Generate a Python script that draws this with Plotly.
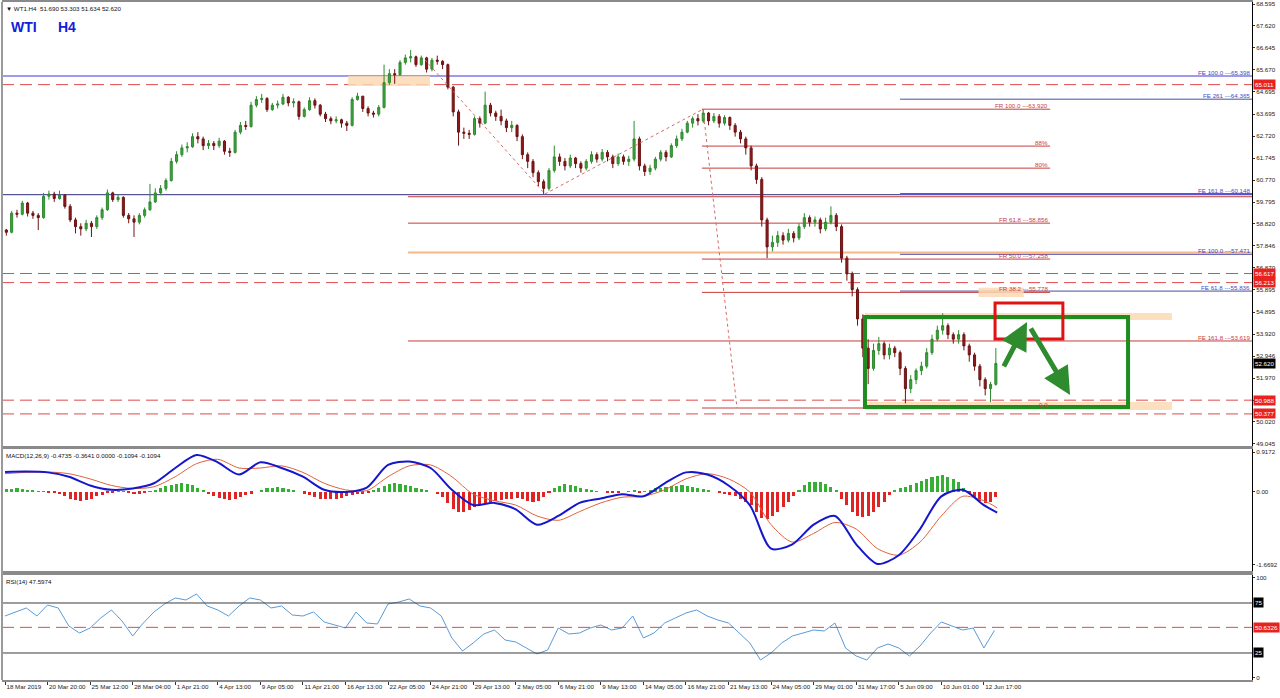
import plotly.graph_objects as go
from plotly.subplots import make_subplots

# ---------------- data ----------------
HEADER = "\u25bc WT1.H4  51.690 53.303 51.634 52.620"
MACD_HEADER = "MACD(12,26,9) -0.4735 -0.3641 0.0000 -0.1094 -0.1094"
RSI_HEADER = "RSI(14) 47.5974"

OPEN = [58.55, 58.45, 59.3, 59.25, 59.75, 59.3, 59.2, 59.1, 60.05, 60.15,
        59.95, 60.1, 59.6, 59.0, 58.7, 58.6, 58.85, 58.7, 59.1, 59.45,
        60.2, 59.9, 60.0, 59.2, 59.05, 58.9, 59.2, 59.45, 59.8, 60.2,
        60.4, 60.75, 61.6, 61.9, 62.2, 62.25, 62.7, 62.6, 62.3, 62.4,
        62.3, 62.5, 62.05, 62.0, 62.9, 63.2, 63.15, 64.1, 64.35, 64.4,
        63.9, 64.1, 64.15, 64.45, 64.2, 64.25, 63.6, 63.9, 64.3, 64.1,
        63.7, 63.5, 63.4, 63.45, 63.3, 63.2, 64.35, 64.5, 63.95, 63.75,
        63.7, 64.0, 65.1, 65.5, 65.45, 66.0, 66.2, 66.25, 65.9, 66.2,
        65.7, 66.1, 66.05, 65.9, 64.9, 63.8, 62.9, 62.85, 62.8, 63.5,
        63.3, 64.1, 63.75, 63.6, 63.4, 63.1, 63.2, 62.7, 61.9, 61.6,
        61.1, 60.7, 60.4, 61.2, 61.8, 61.6, 61.4, 61.75, 61.5, 61.3,
        61.6, 61.9, 61.7, 62.0, 61.8, 61.5, 61.8, 61.6, 61.7, 62.6,
        61.4, 61.15, 61.3, 61.7, 62.0, 61.8, 62.3, 62.6, 62.9, 63.3,
        63.5, 63.4, 63.75, 63.4, 63.6, 63.3, 63.55, 63.2, 62.9, 62.6,
        62.2, 61.4, 60.8, 59.0, 57.8, 58.0, 58.3, 58.1, 58.4, 58.2,
        58.7, 59.1, 58.9, 59.0, 58.6, 58.9, 59.2, 58.7, 57.3, 56.6,
        55.9, 54.6, 53.3, 52.4, 53.2, 53.5, 53.0, 53.3, 53.1, 52.4,
        51.5, 51.9, 52.3, 52.5, 53.1, 53.7, 54.1, 54.3, 53.9, 53.7,
        53.9, 53.4, 53.0, 52.5, 51.9, 51.5, 51.69]

CLOSE = [58.45, 59.3, 59.25, 59.75, 59.3, 59.2, 59.1, 60.05, 60.15, 59.95,
         60.1, 59.6, 59.0, 58.7, 58.6, 58.85, 58.7, 59.1, 59.45, 60.2,
         59.9, 60.0, 59.2, 59.05, 58.9, 59.2, 59.45, 59.8, 60.2, 60.4,
         60.75, 61.6, 61.9, 62.2, 62.25, 62.7, 62.6, 62.3, 62.4, 62.3,
         62.5, 62.05, 62.0, 62.9, 63.2, 63.15, 64.1, 64.35, 64.4, 63.9,
         64.1, 64.15, 64.45, 64.2, 64.25, 63.6, 63.9, 64.3, 64.1, 63.7,
         63.5, 63.4, 63.45, 63.3, 63.2, 64.35, 64.5, 63.95, 63.75, 63.7,
         64.0, 65.1, 65.5, 65.45, 66.0, 66.2, 66.25, 65.9, 66.2, 65.7,
         66.1, 66.05, 65.9, 64.9, 63.8, 62.9, 62.85, 62.8, 63.5, 63.3,
         64.1, 63.75, 63.6, 63.4, 63.1, 63.2, 62.7, 61.9, 61.6, 61.1,
         60.7, 60.4, 61.2, 61.8, 61.6, 61.4, 61.75, 61.5, 61.3, 61.6,
         61.9, 61.7, 62.0, 61.8, 61.5, 61.8, 61.6, 61.7, 62.6, 61.4,
         61.15, 61.3, 61.7, 62.0, 61.8, 62.3, 62.6, 62.9, 63.3, 63.5,
         63.4, 63.75, 63.4, 63.6, 63.3, 63.55, 63.2, 62.9, 62.6, 62.2,
         61.4, 60.8, 59.0, 57.8, 58.0, 58.3, 58.1, 58.4, 58.2, 58.7,
         59.1, 58.9, 59.0, 58.6, 58.9, 59.2, 58.7, 57.3, 56.6, 55.9,
         54.6, 53.3, 52.4, 53.2, 53.5, 53.0, 53.3, 53.1, 52.4, 51.5,
         51.9, 52.3, 52.5, 53.1, 53.7, 54.1, 54.3, 53.9, 53.7, 53.9,
         53.4, 53.0, 52.5, 51.9, 51.5, 51.69, 52.62]

HIGH = [58.6, 59.4, 59.45, 59.85, 59.8, 59.4, 59.3, 60.2, 60.3, 60.25,
        60.3, 60.15, 59.7, 59.1, 58.85, 59.0, 58.95, 59.2, 59.55, 60.35,
        60.25, 60.15, 60.05, 59.3, 59.2, 59.3, 59.55, 60.6, 60.4, 60.55,
        60.85, 61.75, 62.05, 62.35, 62.45, 62.85, 62.9, 62.7, 62.55, 62.5,
        62.65, 62.55, 62.2, 63.0, 63.35, 63.4, 64.25, 64.5, 64.6, 64.45,
        64.2, 64.3, 64.6, 64.5, 64.4, 64.3, 64.0, 64.45, 64.4, 64.15,
        63.8, 63.6, 63.6, 63.5, 63.4, 64.45, 64.65, 64.5, 64.05, 63.85,
        64.1, 65.9, 65.7, 65.7, 66.1, 66.35, 66.55, 66.3, 66.3, 66.25,
        66.2, 66.3, 66.1, 65.95, 64.95, 63.9, 63.1, 63.0, 63.6, 63.6,
        64.7, 64.2, 63.85, 63.9, 63.5, 63.4, 63.25, 62.8, 62.0, 61.7,
        61.2, 60.8, 61.3, 62.3, 61.95, 61.75, 61.9, 61.8, 61.6, 61.7,
        62.05, 62.0, 62.15, 62.1, 61.9, 61.95, 61.9, 61.85, 63.4, 62.7,
        61.5, 61.45, 61.8, 62.1, 62.1, 62.4, 62.75, 63.05, 63.4, 63.6,
        63.7, 63.92, 63.8, 63.75, 63.7, 63.65, 63.6, 63.3, 63.0, 62.7,
        62.3, 61.5, 60.9, 59.1, 58.3, 58.5, 58.45, 58.6, 58.5, 58.85,
        59.3, 59.2, 59.15, 59.1, 59.1, 59.6, 59.3, 58.8, 57.4, 56.7,
        56.0, 54.8, 53.7, 53.5, 53.8, 53.6, 53.5, 53.4, 53.2, 52.5,
        52.1, 52.4, 52.7, 53.3, 53.9, 54.3, 54.85, 54.4, 54.0, 54.1,
        54.0, 53.5, 53.1, 52.6, 52.0, 51.8, 53.303]

LOW = [58.3, 58.4, 59.1, 59.2, 59.15, 59.05, 58.55, 59.05, 59.9, 59.8,
       59.9, 59.5, 58.9, 58.4, 58.3, 58.5, 58.24, 58.6, 59.0, 59.4,
       59.8, 59.8, 59.1, 58.85, 58.24, 58.8, 59.1, 59.4, 59.75, 60.1,
       60.3, 60.7, 61.5, 61.8, 62.0, 62.2, 62.4, 62.1, 62.15, 62.1,
       62.2, 61.9, 61.8, 61.95, 62.8, 63.0, 63.1, 64.0, 64.2, 63.8,
       63.85, 63.95, 64.1, 64.05, 64.0, 63.45, 63.55, 63.85, 63.95, 63.6,
       63.35, 63.25, 63.3, 63.1, 62.95, 63.15, 64.3, 63.8, 63.6, 63.55,
       63.6, 63.95, 65.0, 65.05, 65.4, 65.9, 66.0, 65.8, 65.85, 65.55,
       65.6, 65.9, 65.7, 64.8, 63.6, 62.3, 62.6, 62.6, 62.75, 63.1,
       63.25, 63.6, 63.4, 63.2, 62.9, 62.9, 62.5, 61.7, 61.3, 60.9,
       60.5, 60.15, 60.3, 61.1, 61.4, 61.2, 61.3, 61.3, 61.1, 61.2,
       61.5, 61.55, 61.6, 61.6, 61.3, 61.4, 61.45, 61.4, 61.6, 61.2,
       60.95, 61.0, 61.2, 61.6, 61.6, 61.75, 62.2, 62.5, 62.85, 63.1,
       63.2, 63.3, 63.2, 63.3, 63.1, 63.2, 63.0, 62.7, 62.4, 61.9,
       61.2, 60.6, 58.7, 57.3, 57.6, 57.8, 57.9, 58.0, 58.0, 58.1,
       58.6, 58.7, 58.7, 58.4, 58.5, 58.8, 58.5, 57.1, 56.3, 55.6,
       54.3, 52.9, 51.7, 52.3, 53.0, 52.8, 52.8, 52.9, 52.1, 50.85,
       51.3, 51.7, 52.1, 52.4, 53.0, 53.6, 53.9, 53.7, 53.5, 53.5,
       53.2, 52.7, 52.3, 51.6, 51.2, 50.9, 51.634]

MACD_HIST = [0.06, 0.07, 0.08, 0.06, 0.04, 0.03, 0.02, 0.01, -0.01, -0.02,
             -0.05, -0.1, -0.15, -0.18, -0.2, -0.18, -0.15, -0.1, -0.06, -0.02,
             -0.01, 0.02, 0.01, -0.03, -0.05, -0.04, -0.02, 0.01,
             0.05, 0.1, 0.14, 0.17, 0.19, 0.2, 0.18, 0.15, 0.1,
             0.03, -0.05, -0.1, -0.14, -0.17, -0.18, -0.16, -0.12, -0.08, -0.04, 0.0,
             0.04, 0.08, 0.1, 0.11, 0.09, 0.06, 0.03, 0.0,
             -0.04, -0.08, -0.12, -0.15, -0.16, -0.17, -0.15, -0.13, -0.1, -0.07, -0.05, -0.04, -0.02,
             0.03, 0.08, 0.14, 0.18, 0.2, 0.19, 0.17, 0.14, 0.1, 0.06, 0.03, 0.0,
             -0.05, -0.12, -0.25, -0.38, -0.45, -0.47, -0.42, -0.35, -0.3, -0.25, -0.22, -0.2, -0.18, -0.17, -0.15, -0.14,
             -0.16, -0.2, -0.22, -0.2, -0.12, -0.02,
             0.08, 0.14, 0.18, 0.17, 0.14, 0.1, 0.07, 0.04,
             0.02, 0.0, -0.02, -0.03, -0.02, 0.0, 0.02, 0.05, -0.02,
             0.02, 0.05, 0.08, 0.1, 0.12, 0.13, 0.14, 0.15, 0.14, 0.12, 0.1, 0.07,
             0.03, 0.0, -0.03, -0.05, -0.07, -0.1, -0.15,
             -0.22, -0.3, -0.45, -0.6, -0.62, -0.55, -0.45, -0.35, -0.22, -0.1,
             0.05, 0.15, 0.22, 0.24, 0.22, 0.18, 0.12, 0.05,
             -0.15, -0.3, -0.45, -0.55, -0.58, -0.55, -0.45, -0.35, -0.22,
             -0.08, 0.03, 0.08, 0.12, 0.16, 0.2, 0.25, 0.3, 0.34, 0.37, 0.38, 0.35, 0.3, 0.22,
             0.1, -0.02, -0.12, -0.2, -0.25, -0.22, -0.11]

MACD_MAIN = [0.46, 0.47, 0.45, 0.35, 0.15, 0.05, 0.08, 0.2, 0.55, 0.85,
             0.68, 0.4, 0.68, 0.55, 0.35, 0.05, 0.0, 0.1, 0.62, 0.7,
             0.55, 0.05, -0.3, -0.25, -0.4, -0.75, -0.55, -0.25, -0.15, -0.05,
             -0.1, 0.2, 0.45, 0.4, 0.15, -0.3, -1.3, -1.2, -0.75, -0.55,
             -1.2, -1.65, -1.45, -0.85, -0.1, 0.05, -0.3, -0.4735]
MACD_SIGNAL = [0.42, 0.45, 0.46, 0.42, 0.3, 0.15, 0.08, 0.12, 0.35, 0.65,
               0.75, 0.55, 0.55, 0.6, 0.45, 0.2, 0.05, 0.03, 0.35, 0.6,
               0.62, 0.35, -0.05, -0.2, -0.3, -0.55, -0.65, -0.45, -0.25, -0.12,
               -0.1, 0.05, 0.3, 0.42, 0.3, 0.0, -0.75, -1.15, -0.95, -0.7,
               -0.85, -1.3, -1.45, -1.15, -0.55, -0.1, -0.2, -0.3641]

RSI_VALS = [62, 66, 70, 62, 73, 70, 52, 45, 50, 60,
            68, 57, 42, 55, 66, 74, 80, 78, 84, 72,
            68, 62, 72, 80, 78, 70, 72, 63, 62, 66,
            56, 53, 50, 66, 55, 54, 74, 76, 79, 72,
            70, 62, 40, 27, 35, 44, 48, 38, 36, 30,
            24, 28, 50, 44, 45, 50, 53, 48, 50, 62,
            40, 45, 55, 60, 65, 68, 62, 58, 55, 45,
            35, 18, 25, 35, 42, 45, 48, 47, 55, 30,
            22, 18, 30, 34, 30, 22, 32, 45, 56, 52,
            48, 50, 30, 47.6]

DATE_LABELS = ["18 Mar 2019", "20 Mar 20:00", "25 Mar 12:00", "28 Mar 04:00", "1 Apr 21:00",
               "4 Apr 13:00", "9 Apr 05:00", "11 Apr 21:00", "16 Apr 13:00", "22 Apr 05:00",
               "24 Apr 21:00", "29 Apr 13:00", "2 May 05:00", "6 May 21:00", "9 May 13:00",
               "14 May 05:00", "16 May 21:00", "21 May 13:00", "24 May 05:00", "29 May 01:00",
               "31 May 17:00", "5 Jun 09:00", "10 Jun 01:00", "12 Jun 17:00"]

PRICE_TICKS = ["68.595", "67.620", "66.645", "65.670", "64.695", "63.695", "62.720", "61.745",
               "60.770", "59.795", "58.820", "57.846", "56.870", "55.895", "54.895", "53.920",
               "52.946", "51.970", "50.995", "50.020", "49.045"]
MACD_TICKS = ["0.9172", "0.00", "-1.6692"]
RSI_TICKS = ["100", "0"]

# horizontal levels (price) and their labels
LEVEL_PRICES = [65.398, 65.011, 64.365, 63.920, 62.28, 61.30, 60.12, 60.148, 60.03,
                58.856, 57.55, 57.471, 57.258, 56.617, 56.213, 55.836, 55.778,
                53.619, 50.988, 50.377, 50.64]
LEVEL_TEXT = ["FE 100.0 ---65.398", "", "FE 261 ---64.365", "FR 100.0 ---63.920", "88%", "80%",
              "", "FE 161.8 ---60.148", "", "FR 61.8 ---58.856", "", "FE 100.0 ---57.471",
              "FR 50.0 ---57.258", "", "", "FE 61.8 ---55.836", "FR 38.2 ---55.778",
              "FE 161.8 ---53.619", "", "", "0.0"]
AXIS_BOX_PRICES = ["65.011", "56.617", "56.213", "50.988", "50.377"]
LAST_PRICE = "52.620"
RSI_LEVELS = [75, 25]
RSI_MID = 50.6326

# ---------------- geometry / style (bar-index units) ----------------
N = len(CLOSE)
CANDLE_X = [2 * k + 0.5 for k in range(N)]
MACD_X = list(range(0, 369, 8)) + [373]
RSI_X = list(range(0, 373, 4))
DATE_X = list(range(0, 16 * len(DATE_LABELS), 16))
XR = [-1.13, 468.8]

FULL = None
A, B, C_, D = 151.5, 262.0, 336.5, 392.9
LEVEL_SPAN = [FULL, FULL, (C_, None), (B, D), (B, D), (B, D), FULL, (C_, None), (A, None),
              (A, D), (A, None), (C_, None), (B, D), FULL, FULL, (C_, None), (B, D),
              (A, None), FULL, FULL, (B, D)]
RED = "#c83c3c"
BLUE = "#4a4aa8"
LEVEL_STYLE = [("#9c9cec", 2, "solid"), ("#e04a4a", 1, "12px,6px"), (BLUE, 1, "solid"),
               (RED, 1, "solid"), (RED, 1, "solid"), (RED, 1, "solid"), ("#2e2e7e", 1, "solid"),
               ("#5656d4", 2, "solid"), (RED, 1, "solid"), (RED, 1, "solid"),
               ("#f6b98a", 2, "solid"), (BLUE, 1, "solid"), (RED, 1, "solid"),
               ("#e04a4a", 1, "12px,6px"), ("#e04a4a", 1, "12px,6px"), (BLUE, 1, "solid"),
               (RED, 1, "solid"), (RED, 1, "solid"), ("#e04a4a", 1, "12px,6px"),
               ("#e04a4a", 1, "12px,6px"), (RED, 1, "solid")]

FONT = "Liberation Sans, Arial, DejaVu Sans"
FS = 6.2

fig = make_subplots(rows=3, cols=1, shared_xaxes=True, vertical_spacing=0.005,
                    row_heights=[0.66, 0.18, 0.16])

fig.add_trace(go.Candlestick(
    x=CANDLE_X, open=OPEN, high=HIGH, low=LOW, close=CLOSE,
    increasing=dict(line=dict(color="#2f8a2f", width=1), fillcolor="#3da33d"),
    decreasing=dict(line=dict(color="#6e1212", width=1), fillcolor="#8e1b1b"),
    whiskerwidth=0, hoverinfo="skip", showlegend=False), row=1, col=1)

fig.add_trace(go.Bar(
    x=CANDLE_X, y=MACD_HIST, width=1.15,
    marker=dict(color=["#35b035" if v >= 0 else "#e02424" for v in MACD_HIST], line=dict(width=0)),
    showlegend=False, hoverinfo="skip"), row=2, col=1)
fig.add_trace(go.Scatter(x=MACD_X, y=MACD_SIGNAL, mode="lines",
                         line=dict(color="#e0623c", width=1, shape="spline", smoothing=0.8),
                         showlegend=False, hoverinfo="skip"), row=2, col=1)
fig.add_trace(go.Scatter(x=MACD_X, y=MACD_MAIN, mode="lines",
                         line=dict(color="#1616cc", width=2, shape="spline", smoothing=0.8),
                         showlegend=False, hoverinfo="skip"), row=2, col=1)

fig.add_trace(go.Scatter(x=RSI_X, y=RSI_VALS, mode="lines",
                         line=dict(color="#5b9bd5", width=1),
                         showlegend=False, hoverinfo="skip"), row=3, col=1)

shapes = []
annotations = []

# levels
for price, span, (col, w, dash), txt in zip(LEVEL_PRICES, LEVEL_SPAN, LEVEL_STYLE, LEVEL_TEXT):
    if span is None:
        shapes.append(dict(type="line", xref="x domain", yref="y", x0=0, x1=1, y0=price, y1=price,
                           line=dict(color=col, width=w, dash=dash), layer="below"))
    else:
        x0, x1 = span
        shapes.append(dict(type="line", xref="x", yref="y", x0=x0,
                           x1=XR[1] if x1 is None else x1, y0=price, y1=price,
                           line=dict(color=col, width=w, dash=dash), layer="below"))
    if txt:
        tcol = "#4848c0" if txt.startswith("FE") and "53.619" not in txt else "#c83c3c"
        if span is not None and span[1] is not None:
            annotations.append(dict(xref="x", yref="y", x=span[1], y=price, xanchor="right",
                                    yanchor="bottom", text=txt, showarrow=False,
                                    font=dict(size=FS, color=tcol, family=FONT), yshift=-2))
        else:
            annotations.append(dict(xref="x domain", yref="y", x=1, y=price, xanchor="right",
                                    yanchor="bottom", text=txt, showarrow=False,
                                    font=dict(size=FS, color=tcol, family=FONT), yshift=-2))

# highlight zones
ZONES = [(129.0, 159.8, 64.95, 65.395), (323.3, 438.7, 54.55, 54.86),
         (323.3, 438.7, 50.55, 50.91), (366.0, 383.0, 55.57, 55.98)]
for x0, x1, y0, y1 in ZONES:
    shapes.append(dict(type="rect", xref="x", yref="y", x0=x0, x1=x1, y0=y0, y1=y1,
                       fillcolor="#fcd9b4", line=dict(width=0), opacity=0.85, layer="below"))

# fibo dotted lines
DOTS = [((157.9, 66.11), (203.0, 60.15)), ((203.0, 60.15), (262.4, 63.92)),
        ((262.4, 63.92), (275.2, 50.64))]
for (x0, y0), (x1, y1) in DOTS:
    shapes.append(dict(type="line", xref="x", yref="y", x0=x0, y0=y0, x1=x1, y1=y1,
                       line=dict(color="#d86a6a", width=1, dash="dot")))

# green range box and red target box
shapes.append(dict(type="rect", xref="x", yref="y", x0=323.3, x1=422.2, y0=50.684, y1=54.684,
                   line=dict(color="#1f8c1f", width=4)))
shapes.append(dict(type="rect", xref="x", yref="y", x0=372.2, x1=397.7, y0=53.71, y1=55.31,
                   line=dict(color="#e01212", width=3)))

# arrows
ARROWS = [((375.2, 52.42), (384.2, 54.46)), ((385.3, 54.24), (400.4, 51.22))]
for (tx, ty), (hx, hy) in ARROWS:
    annotations.append(dict(xref="x", yref="y", x=hx, y=hy, ax=tx, ay=ty, axref="x", ayref="y",
                            showarrow=True, arrowhead=2, arrowsize=1.1, arrowwidth=5,
                            arrowcolor="#2e8b2e", text=""))

# RSI levels
for lv in RSI_LEVELS:
    shapes.append(dict(type="line", xref="x3 domain", yref="y3", x0=0, x1=1, y0=lv, y1=lv,
                       line=dict(color="#3c3c3c", width=1)))
shapes.append(dict(type="line", xref="x3 domain", yref="y3", x0=0, x1=1, y0=RSI_MID, y1=RSI_MID,
                   line=dict(color="#e04a4a", width=1, dash="12px,6px")))

# left window frame
shapes.append(dict(type="line", xref="paper", yref="paper", x0=0, x1=0, y0=0, y1=1,
                   line=dict(color="#9a9a9a", width=2)))

# axis boxes
def axis_box(text, y, yref, bg):
    annotations.append(dict(xref="paper", yref=yref, x=1, y=y, xanchor="left", xshift=1,
                            text=text, showarrow=False, bgcolor=bg, borderpad=1,
                            font=dict(size=FS, color="white", family=FONT)))

for t in AXIS_BOX_PRICES:
    axis_box(t, float(t), "y", "#e8231f")
axis_box(LAST_PRICE, float(LAST_PRICE), "y", "#000000")
for lv in RSI_LEVELS:
    axis_box(str(lv), lv, "y3", "#000000")
axis_box("%.4f" % RSI_MID, RSI_MID, "y3", "#e8231f")

# headers
annotations.append(dict(xref="paper", yref="paper", x=0, y=1, xanchor="left", yanchor="top",
                        xshift=2, yshift=-1, text=HEADER, showarrow=False,
                        font=dict(size=FS, color="#111", family=FONT)))
annotations.append(dict(xref="paper", yref="paper", x=0, y=1, xanchor="left", yanchor="top",
                        xshift=7, yshift=-15, text="<b>WTI</b>", showarrow=False,
                        font=dict(size=14, color="#1020d8", family=FONT)))
annotations.append(dict(xref="paper", yref="paper", x=0, y=1, xanchor="left", yanchor="top",
                        xshift=54, yshift=-15, text="<b>H4</b>", showarrow=False,
                        font=dict(size=14, color="#1020d8", family=FONT)))
annotations.append(dict(xref="x2 domain", yref="y2 domain", x=0, y=1, xanchor="left", yanchor="top",
                        xshift=2, yshift=-1, text=MACD_HEADER, showarrow=False,
                        font=dict(size=FS, color="#111", family=FONT)))
annotations.append(dict(xref="x3 domain", yref="y3 domain", x=0, y=1, xanchor="left", yanchor="top",
                        xshift=2, yshift=-1, text=RSI_HEADER, showarrow=False,
                        font=dict(size=FS, color="#111", family=FONT)))

fig.update_layout(
    width=1280, height=698, margin=dict(l=2, r=28, t=2, b=18, autoexpand=False),
    paper_bgcolor="white", plot_bgcolor="white", showlegend=False,
    font=dict(family=FONT, size=FS, color="#222"),
    shapes=shapes, annotations=annotations, bargap=0, boxgap=0.45,
)

xcommon = dict(range=XR, showgrid=False, zeroline=False, showline=True, mirror=True,
               linecolor="#8a8a8a", linewidth=2, fixedrange=True, automargin=False)
fig.update_xaxes(**xcommon)
fig.update_xaxes(showticklabels=False, ticks="", row=1, col=1)
fig.update_xaxes(showticklabels=False, ticks="", row=2, col=1)
fig.update_xaxes(tickvals=DATE_X, ticktext=DATE_LABELS, ticks="outside", ticklen=3,
                 tickcolor="#333", ticklabelposition="outside right", tickangle=0,
                 tickfont=dict(size=FS, color="#222"), row=3, col=1)
fig.update_layout(xaxis_rangeslider_visible=False)

ycommon = dict(side="right", showgrid=False, zeroline=False, showline=True, linecolor="#000",
               linewidth=1, ticks="outside", ticklen=2, tickcolor="#333",
               tickfont=dict(size=FS, color="#222"), fixedrange=True, automargin=False)
fig.update_yaxes(**ycommon)
fig.update_yaxes(range=[48.95, 68.684], tickvals=[float(t) for t in PRICE_TICKS],
                 ticktext=PRICE_TICKS, row=1, col=1)
fig.update_yaxes(range=[-1.812, 0.986], tickvals=[float(t) for t in MACD_TICKS],
                 ticktext=MACD_TICKS, row=2, col=1)
fig.update_yaxes(range=[-2, 103], tickvals=[float(t) for t in RSI_TICKS],
                 ticktext=RSI_TICKS, row=3, col=1)

fig.layout.yaxis.domain = [0.3451, 1.0]
fig.layout.yaxis2.domain = [0.1608, 0.3407]
fig.layout.yaxis3.domain = [0.0, 0.1549]

fig.write_html("out.html", config={"displayModeBar": False},
               post_script="document.body.style.margin='0';document.body.style.overflow='hidden';")
